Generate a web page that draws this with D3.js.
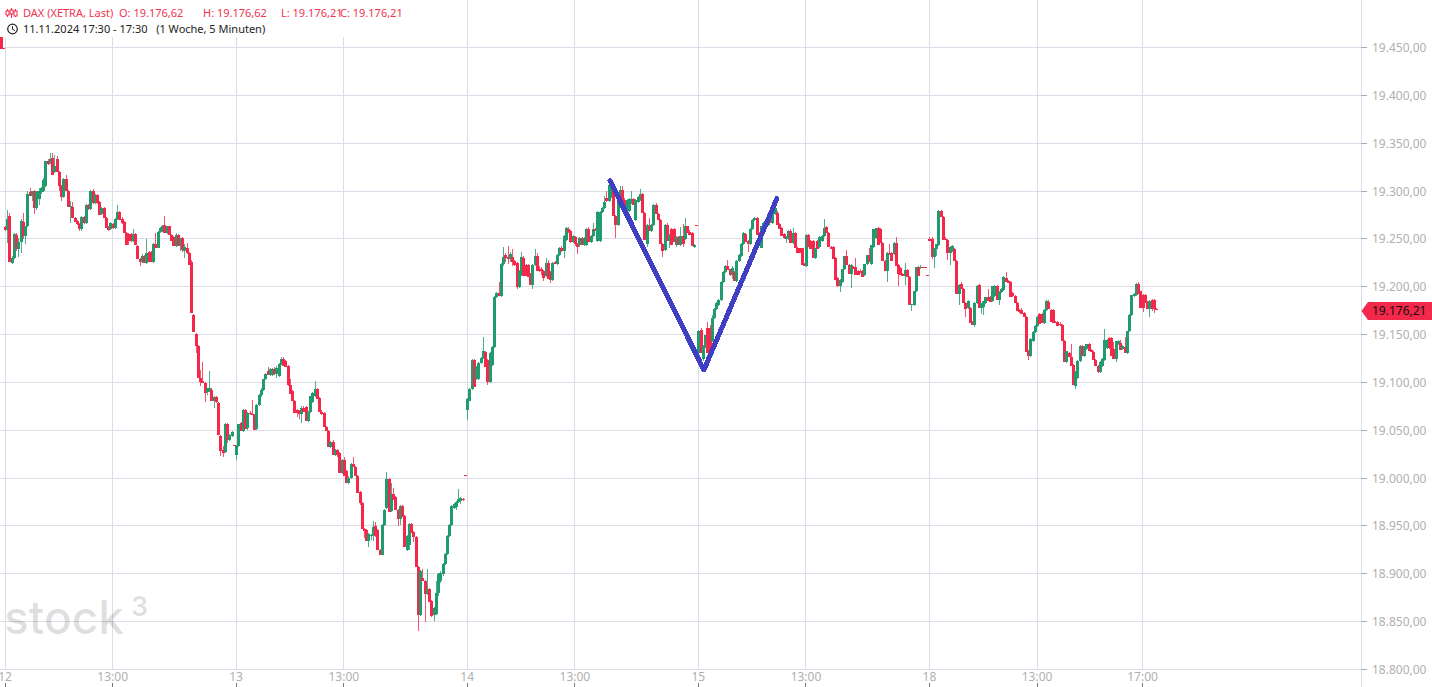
<!DOCTYPE html>
<html><head><meta charset="utf-8">
<script src="https://cdn.jsdelivr.net/npm/d3@7/dist/d3.min.js"></script>
<style>
html,body{margin:0;padding:0;background:#fff;overflow:hidden}
svg{display:block;font-family:"Noto Sans","Open Sans",sans-serif}
</style></head><body>
<svg id="c" width="1432" height="687"></svg>
<script>
// rows: [open, high, low, close] of one 5-minute candle
const day11tail = [[19465,19466,19449,19449],[19450,19450,19449,19449]];
const day12 = [
[19262,19263,19258,19259],[19259,19280,19246,19271],[19274,19277,19226,19226],[19225,19232,19224,19230],[19230,19256,19229,19255],[19254,19256,19237,19239],[19239,19251,19231,19247],[19247,19271,19235,19269],[19268,19277,19250,19253],[19253,19264,19245,19263],
[19263,19300,19262,19297],[19299,19303,19295,19295],[19295,19300,19290,19300],[19300,19301,19276,19282],[19282,19300,19280,19300],[19292,19303,19285,19300],[19299,19304,19297,19303],[19300,19314,19299,19312],[19305,19331,19304,19331],[19331,19334,19327,19328],
[19329,19340,19328,19334],[19335,19340,19317,19317],[19320,19338,19319,19326],[19334,19337,19320,19320],[19320,19321,19300,19305],[19305,19306,19290,19294],[19294,19314,19293,19313],[19313,19317,19300,19300],[19300,19301,19283,19283],[19283,19290,19267,19284],
[19283,19289,19272,19272],[19272,19273,19268,19268],[19269,19270,19265,19266],[19266,19267,19258,19260],[19260,19274,19258,19273],[19273,19274,19266,19267],[19267,19286,19266,19285],[19285,19286,19280,19281],[19281,19301,19280,19300],[19300,19302,19287,19288],
[19288,19297,19287,19296],[19296,19297,19287,19288],[19289,19290,19275,19275],[19276,19283,19275,19282],[19282,19283,19272,19272],[19272,19273,19261,19261],[19262,19263,19258,19259],[19260,19268,19259,19267],[19266,19267,19260,19261],[19261,19272,19260,19271],
[19271,19285,19270,19278],[19278,19279,19270,19270],[19271,19273,19266,19267],[19268,19269,19256,19256],[19256,19257,19244,19244],[19255,19256,19244,19248],[19255,19256,19247,19248],[19248,19260,19247,19255],[19255,19256,19244,19244],[19243,19244,19229,19229],
[19229,19230,19222,19226],[19226,19234,19225,19232],[19232,19233,19225,19225],[19225,19250,19224,19235],[19236,19237,19226,19226],[19236,19237,19226,19226],[19226,19246,19225,19245],[19245,19256,19241,19241],[19241,19258,19240,19257],[19257,19262,19256,19261],
[19258,19265,19257,19264],[19265,19274,19256,19256],[19256,19264,19255,19263],[19263,19264,19254,19254],[19254,19255,19248,19248],[19252,19253,19243,19243],[19243,19256,19242,19254],[19254,19255,19243,19243],[19243,19251,19237,19251],[19251,19252,19236,19238],
[19237,19245,19230,19242],[19241,19246,19234,19235],[19235,19236,19223,19223],[19226,19228,19172,19172],[19170,19171,19153,19153],[19151,19152,19131,19138],[19138,19139,19105,19105],[19105,19113,19096,19100],[19101,19121,19099,19099],[19099,19100,19079,19089],
[19090,19094,19087,19094],[19091,19112,19090,19094],[19092,19094,19080,19080],[19080,19086,19073,19085],[19085,19086,19078,19079],[19078,19079,19045,19045],[19044,19045,19023,19028],[19029,19033,19022,19026],[19027,19057,19026,19056],[19056,19057,19037,19040],
[19040,19046,19039,19045],[19044,19049,19043,19048],[19034,19034,19033,19033]];
const day13 = [
[19024,19034,19019,19033],[19033,19056,19032,19056],[19057,19059,19049,19049],[19049,19072,19048,19071],[19071,19072,19051,19051],[19052,19069,19050,19068],[19068,19070,19066,19067],[19067,19082,19066,19066],[19066,19067,19050,19050],[19051,19077,19050,19076],
[19076,19088,19075,19087],[19087,19094,19085,19092],[19092,19104,19091,19103],[19103,19110,19102,19109],[19112,19116,19108,19108],[19108,19115,19107,19114],[19108,19115,19107,19114],[19114,19116,19108,19109],[19109,19117,19105,19115],[19107,19120,19106,19119],
[19119,19127,19118,19124],[19124,19126,19117,19117],[19122,19123,19116,19116],[19117,19118,19096,19097],[19097,19104,19088,19088],[19091,19092,19081,19081],[19081,19082,19068,19068],[19071,19072,19064,19068],[19070,19071,19062,19067],[19067,19075,19058,19073],
[19073,19075,19069,19069],[19074,19075,19060,19060],[19060,19070,19059,19069],[19069,19086,19068,19086],[19079,19090,19078,19089],[19086,19101,19085,19093],[19093,19094,19083,19083],[19084,19085,19069,19069],[19069,19071,19066,19067],[19068,19069,19053,19053],
[19053,19054,19049,19049],[19049,19050,19032,19032],[19032,19039,19031,19038],[19038,19040,19024,19024],[19024,19030,19023,19029],[19029,19030,19022,19024],[19026,19027,19005,19005],[19005,19020,19004,19019],[19019,19022,19002,19002],[19007,19008,18995,18995],
[18995,19002,18994,19000],[19000,19016,18999,19015],[19015,19022,19012,19012],[19012,19013,19002,19002],[19002,19003,18984,18984],[18985,18986,18972,18974],[18974,18975,18947,18947],[18947,18948,18937,18945],[18946,18947,18934,18934],[18934,18942,18928,18941],
[18939,18941,18935,18940],[18940,18955,18934,18949],[18950,18954,18938,18939],[18946,18947,18925,18925],[18925,18926,18920,18920],[18920,18952,18919,18951],[18951,18968,18950,18967],[18969,19006,18968,18999],[18999,19000,18964,18964],[18965,18995,18964,18983],
[18983,18990,18977,18977],[18980,18981,18967,18967],[18967,18968,18950,18957],[18957,18972,18951,18971],[18971,18972,18959,18959],[18960,18961,18928,18928],[18925,18940,18924,18939],[18930,18953,18925,18952],[18952,18953,18943,18943],[18944,18945,18933,18938],
[18938,18939,18907,18907],[18907,18908,18840,18857],[18857,18904,18856,18903],[18895,18905,18892,18892],[18892,18893,18849,18879],[18879,18905,18878,18884],[18884,18885,18870,18870],[18871,18872,18855,18856],[18857,18865,18850,18864],[18858,18892,18857,18880],
[18880,18901,18877,18900],[18892,18903,18890,18901],[18900,18911,18898,18910],[18910,18922,18909,18921],[18921,18940,18920,18939],[18939,18952,18938,18951],[18951,18972,18950,18971],[18969,18974,18968,18973],[18970,18976,18967,18975],[18975,18988,18974,18978],
[18976,18980,18973,18979],[18978,18979,18976,18977],[19003,19003,19002,19002]];
const day14 = [
[19071,19084,19061,19083],[19081,19094,19080,19093],[19093,19124,19092,19123],[19123,19124,19095,19095],[19103,19117,19102,19116],[19103,19121,19102,19120],[19120,19126,19119,19125],[19125,19147,19124,19133],[19132,19133,19116,19116],[19123,19124,19097,19100],
[19100,19132,19099,19131],[19118,19138,19117,19137],[19137,19190,19136,19189],[19189,19194,19188,19193],[19193,19205,19190,19190],[19190,19225,19189,19224],[19224,19242,19222,19231],[19233,19235,19226,19230],[19231,19243,19224,19229],[19229,19236,19226,19234],
[19231,19239,19222,19226],[19227,19228,19222,19223],[19225,19226,19198,19200],[19200,19217,19199,19216],[19212,19236,19211,19231],[19230,19232,19211,19211],[19223,19224,19211,19211],[19223,19224,19210,19210],[19213,19214,19202,19202],[19202,19224,19198,19223],
[19223,19239,19222,19232],[19232,19235,19216,19216],[19219,19222,19215,19216],[19219,19221,19212,19216],[19216,19217,19206,19209],[19211,19230,19210,19225],[19225,19228,19208,19208],[19215,19216,19204,19207],[19207,19226,19206,19225],[19226,19227,19224,19224],
[19224,19234,19223,19233],[19233,19242,19232,19240],[19240,19243,19236,19237],[19237,19254,19230,19253],[19249,19262,19248,19261],[19260,19262,19256,19257],[19258,19259,19246,19247],[19247,19254,19246,19253],[19252,19253,19243,19245],[19245,19246,19234,19242],
[19244,19252,19242,19251],[19251,19252,19244,19244],[19244,19252,19243,19251],[19244,19261,19243,19260],[19260,19262,19247,19247],[19247,19254,19246,19253],[19253,19267,19252,19260],[19260,19261,19258,19258],[19248,19279,19247,19278],[19248,19279,19247,19278],
[19278,19283,19277,19282],[19282,19295,19281,19289],[19293,19300,19289,19290],[19290,19308,19289,19306],[19294,19309,19293,19308],[19303,19304,19274,19274],[19274,19275,19251,19265],[19265,19299,19264,19298],[19293,19305,19292,19301],[19301,19305,19289,19289],
[19291,19293,19276,19279],[19279,19292,19270,19291],[19279,19293,19278,19292],[19288,19300,19287,19292],[19292,19293,19285,19285],[19270,19292,19269,19291],[19289,19295,19288,19294],[19291,19302,19290,19297],[19297,19298,19277,19277],[19277,19278,19249,19249],
[19245,19266,19242,19265],[19264,19272,19258,19258],[19258,19266,19257,19265],[19265,19286,19264,19285],[19285,19288,19276,19276],[19276,19277,19270,19270],[19270,19271,19245,19245],[19245,19246,19231,19237],[19238,19266,19237,19265],[19265,19267,19248,19248],
[19248,19255,19240,19254],[19260,19261,19244,19244],[19260,19261,19247,19247],[19244,19253,19242,19252],[19252,19253,19244,19244],[19244,19262,19243,19253],[19253,19266,19242,19245],[19250,19272,19249,19263],[19263,19264,19256,19256],[19257,19259,19254,19254],
[19256,19257,19243,19243],[19242,19245,19241,19244],[19265,19265,19264,19264]];
const day15 = [
[19131,19155,19130,19154],[19155,19157,19131,19131],[19124,19139,19122,19138],[19137,19150,19136,19149],[19157,19163,19131,19131],[19157,19160,19128,19128],[19143,19170,19142,19167],[19167,19178,19166,19177],[19177,19184,19176,19183],[19181,19187,19180,19186],
[19186,19206,19185,19205],[19205,19216,19204,19215],[19215,19223,19214,19222],[19222,19228,19217,19217],[19218,19219,19211,19212],[19212,19222,19208,19220],[19215,19216,19206,19206],[19206,19228,19205,19227],[19227,19234,19226,19233],[19232,19246,19231,19245],
[19245,19257,19244,19256],[19255,19256,19247,19247],[19248,19249,19236,19245],[19245,19261,19244,19260],[19260,19271,19259,19270],[19270,19273,19269,19272],[19272,19273,19254,19254],[19256,19257,19249,19249],[19241,19264,19240,19263],[19258,19268,19257,19267],
[19266,19272,19265,19271],[19265,19272,19264,19271],[19271,19272,19267,19267],[19267,19278,19266,19277],[19276,19290,19275,19282],[19277,19279,19265,19265],[19266,19267,19260,19260],[19261,19262,19253,19253],[19255,19256,19250,19251],[19250,19253,19246,19252],
[19250,19259,19249,19258],[19258,19260,19246,19246],[19246,19261,19245,19256],[19256,19257,19240,19240],[19241,19242,19235,19235],[19240,19241,19235,19235],[19240,19241,19223,19223],[19224,19225,19222,19222],[19222,19255,19221,19254],[19254,19255,19242,19242],
[19248,19249,19239,19239],[19248,19249,19230,19230],[19230,19241,19229,19240],[19248,19249,19239,19239],[19242,19253,19241,19252],[19248,19254,19247,19253],[19253,19271,19252,19261],[19262,19263,19256,19256],[19256,19257,19242,19242],[19242,19243,19239,19239],
[19242,19243,19229,19229],[19230,19231,19207,19207],[19209,19210,19200,19201],[19201,19208,19194,19207],[19205,19219,19204,19219],[19218,19232,19217,19232],[19232,19238,19223,19223],[19223,19224,19213,19213],[19213,19224,19199,19223],[19221,19222,19218,19218],
[19221,19230,19212,19212],[19216,19217,19212,19212],[19216,19218,19214,19215],[19216,19217,19210,19210],[19212,19224,19211,19224],[19224,19233,19223,19233],[19233,19240,19226,19226],[19224,19244,19223,19244],[19242,19260,19241,19260],[19251,19261,19250,19261],
[19261,19262,19244,19244],[19260,19261,19246,19246],[19246,19247,19227,19227],[19227,19228,19216,19216],[19216,19236,19205,19235],[19235,19245,19233,19234],[19235,19236,19227,19227],[19234,19247,19233,19246],[19246,19252,19222,19222],[19223,19224,19201,19213],
[19220,19221,19212,19212],[19213,19214,19211,19211],[19211,19225,19202,19217],[19217,19218,19210,19210],[19210,19211,19181,19181],[19181,19182,19175,19182],[19181,19196,19180,19196],[19195,19221,19194,19221],[19221,19222,19211,19211],[19220,19223,19219,19221],
[19221,19221,19220,19220],[19221,19221,19220,19220],[19212,19212,19211,19211]];
const day18 = [
[19250,19252,19248,19248],[19250,19252,19229,19231],[19231,19240,19220,19240],[19239,19245,19232,19245],[19244,19280,19243,19279],[19279,19280,19273,19273],[19273,19274,19249,19249],[19250,19252,19249,19249],[19249,19250,19228,19235],[19235,19243,19223,19242],
[19237,19244,19236,19243],[19239,19241,19227,19227],[19227,19228,19192,19192],[19192,19203,19181,19202],[19203,19205,19198,19198],[19198,19199,19183,19183],[19183,19184,19168,19177],[19178,19186,19177,19185],[19178,19179,19162,19162],[19163,19164,19160,19160],
[19160,19184,19158,19183],[19183,19202,19182,19201],[19202,19203,19178,19178],[19178,19183,19171,19183],[19179,19185,19170,19185],[19183,19189,19182,19189],[19189,19198,19185,19185],[19189,19190,19184,19184],[19185,19201,19184,19201],[19190,19202,19189,19201],
[19201,19202,19186,19186],[19186,19195,19181,19194],[19194,19199,19193,19198],[19197,19211,19196,19210],[19209,19215,19205,19205],[19206,19207,19204,19204],[19205,19206,19189,19189],[19193,19194,19189,19190],[19190,19191,19183,19183],[19183,19184,19175,19175],
[19176,19177,19173,19174],[19176,19178,19171,19171],[19173,19174,19168,19168],[19168,19169,19132,19132],[19133,19134,19123,19128],[19128,19146,19127,19145],[19143,19154,19142,19153],[19153,19160,19152,19159],[19159,19169,19158,19168],[19171,19172,19161,19161],
[19171,19172,19162,19162],[19162,19177,19161,19176],[19176,19186,19175,19185],[19184,19186,19177,19177],[19176,19177,19163,19163],[19176,19177,19162,19162],[19163,19164,19162,19162],[19163,19164,19159,19159],[19161,19163,19159,19160],[19160,19161,19143,19143],
[19143,19144,19121,19121],[19121,19133,19120,19133],[19131,19132,19126,19126],[19126,19140,19117,19117],[19118,19119,19097,19097],[19096,19112,19093,19111],[19105,19123,19104,19122],[19122,19139,19121,19138],[19138,19139,19128,19128],[19128,19138,19127,19137],
[19135,19140,19134,19140],[19140,19141,19133,19133],[19134,19135,19132,19132],[19132,19133,19123,19123],[19123,19124,19117,19117],[19117,19118,19110,19111],[19111,19122,19110,19121],[19117,19125,19116,19124],[19123,19156,19122,19144],[19136,19145,19135,19144],
[19146,19147,19135,19136],[19146,19147,19128,19128],[19135,19142,19124,19124],[19124,19143,19121,19143],[19140,19144,19139,19143],[19141,19144,19134,19134],[19135,19139,19134,19138],[19137,19147,19131,19131],[19131,19154,19130,19154],[19154,19171,19153,19170],
[19170,19191,19169,19191],[19190,19193,19189,19192],[19191,19204,19190,19203],[19203,19205,19192,19192],[19195,19196,19178,19178],[19191,19192,19174,19178],[19191,19192,19183,19183],[19184,19185,19177,19177],[19177,19186,19168,19185],[19186,19187,19175,19177],
[19186,19187,19172,19177],[19177,19178,19176,19176]];
const sessions = [day12, day13, day14, day15, day18];
const barsPerSession = 103;

const priceTicks = [19450,19400,19350,19300,19250,19200,19150,19100,19050,19000,18950,18900,18850,18800];
const timeTicks = [0,48,103,151,206,254,309,357,412,460,507];
const timeLabels = ["12","13:00","13","13:00","14","13:00","15","13:00","18","13:00","17:00"];
const patternIdx = [269.6,311.5,344];
const patternPrice = [19311,19113,19292];
const lastPrice = 19176.21;
const headerRed = ["DAX (XETRA, Last)","O: 19.176,62","H: 19.176,62","L: 19.176,21","C: 19.176,21"];
const headerRedX = [23,119,203,281,340];
const headerBlack = "11.11.2024 17:30 - 17:30\u00A0\u00A0\u00A0(1 Woche, 5 Minuten)";

const RED="#f4284a",GREEN="#209b6d",GRID="#dcdde8",AXISTXT="#b0b0b0";
const svg=d3.select("#c");
const x=d3.scaleLinear().domain([0,412]).range([5,929.4]);
const y=d3.scaleLinear().domain([18800,19450]).range([669.3,47.6]);
const fmt=v=>d3.format(",.2f")(v).replace(/[.,]/g,m=>m==="."?",":".");

const candles=[];
day11tail.forEach((r,i)=>candles.push({i:i-2,r}));
sessions.forEach((s,d)=>s.forEach((r,i)=>candles.push({i:d*barsPerSession+i,r})));

// grid
const grid=svg.append("g").attr("shape-rendering","crispEdges");
grid.selectAll("line.h").data(priceTicks).join("line").attr("x1",0).attr("x2",1361)
  .attr("y1",d=>y(d)).attr("y2",d=>y(d)).attr("stroke",GRID);
grid.selectAll("line.v").data(timeTicks).join("line").attr("x1",d=>x(d)).attr("x2",d=>x(d))
  .attr("y1",0).attr("y2",669).attr("stroke",GRID);
grid.append("line").attr("x1",1361.5).attr("x2",1361.5).attr("y1",0).attr("y2",687).attr("stroke",GRID);

// watermark
const wm=svg.append("g").attr("fill","#000").attr("fill-opacity",0.13).attr("font-family","Inter,Roboto,sans-serif");
wm.append("text").attr("x",4).attr("y",634).attr("font-size",46).attr("font-weight",500).text("stock");
wm.append("text").attr("x",131).attr("y",616).attr("font-size",27).attr("font-weight",600).text("3");

// candles
const cg=svg.append("g").attr("shape-rendering","crispEdges");
const col=d=>d.r[3]>=d.r[0]?GREEN:RED;
cg.selectAll("line.w").data(candles).join("line").attr("class","w")
  .attr("x1",d=>Math.round(x(d.i))+.5).attr("x2",d=>Math.round(x(d.i))+.5)
  .attr("y1",d=>y(d.r[1])).attr("y2",d=>y(d.r[2])).attr("stroke",col).attr("stroke-opacity",.8);
cg.selectAll("rect.b").data(candles).join("rect").attr("class","b")
  .attr("x",d=>Math.round(x(d.i))-1).attr("width",3)
  .attr("y",d=>y(Math.max(d.r[0],d.r[3])))
  .attr("height",d=>Math.max(1,Math.abs(y(d.r[0])-y(d.r[3]))))
  .attr("fill",col);

// drawn pattern
const pat=patternIdx.map((d,i)=>[d,patternPrice[i]]);
svg.append("path").attr("d",d3.line().x(d=>x(d[0])).y(d=>y(d[1]))(pat))
  .attr("fill","none").attr("stroke","#3f3fc6").attr("stroke-width",5)
  .attr("stroke-linecap","round").attr("stroke-linejoin","round").attr("shape-rendering","crispEdges");

// header
svg.append("rect").attr("x",0).attr("y",0).attr("width",392).attr("height",37).attr("fill","#fff");
const ic=svg.append("g").attr("stroke",RED).attr("fill","none").attr("stroke-width",1);
[[7.5,9,17,11,15],[11.5,8,18,10,14],[15.5,9,17,11,16]].forEach(a=>{
  ic.append("line").attr("x1",a[0]).attr("x2",a[0]).attr("y1",a[1]).attr("y2",a[2]);
  ic.append("rect").attr("x",a[0]-1.5).attr("y",a[3]).attr("width",3).attr("height",a[4]-a[3]).attr("fill","#fff");
});
svg.append("circle").attr("cx",12.5).attr("cy",29).attr("r",4.8).attr("fill","none").attr("stroke","#222").attr("stroke-width",1.2);
svg.append("path").attr("d","M12.5 26.2V29.3L15 30.6").attr("fill","none").attr("stroke","#222");
svg.selectAll("text.hr").data(headerRed).join("text").attr("class","hr").attr("x",(d,i)=>headerRedX[i]).attr("y",17)
  .attr("font-size",11).attr("fill","#f0334f").text(d=>d);
svg.append("text").attr("x",23).attr("y",33).attr("font-size",11).attr("fill","#222").text(headerBlack);

// price axis
const pa=svg.append("g");
pa.selectAll("line").data(priceTicks).join("line").attr("x1",1361).attr("x2",1367)
  .attr("y1",d=>y(d)).attr("y2",d=>y(d)).attr("stroke","#aaa").attr("shape-rendering","crispEdges");
pa.selectAll("text").data(priceTicks).join("text").attr("x",1372).attr("y",d=>y(d)+4.5)
  .attr("font-size",12).attr("fill",AXISTXT).text(fmt);

// last price tag
const ly=y(lastPrice)+1.5;
svg.append("path").attr("d",d3.line()([[1361.5,ly],[1368,ly-9],[1432,ly-9],[1432,ly+9],[1368,ly+9]])+"Z").attr("fill",RED);
svg.append("text").attr("x",1372).attr("y",ly+4.5).attr("font-size",12).attr("fill","#111").text(fmt(lastPrice));

// time axis
const ta=svg.append("g");
ta.selectAll("line").data(timeTicks).join("line").attr("x1",d=>x(d)).attr("x2",d=>x(d))
  .attr("y1",683).attr("y2",687).attr("stroke","#777").attr("shape-rendering","crispEdges");
ta.selectAll("text").data(timeTicks).join("text").attr("x",d=>x(d)).attr("y",681)
  .attr("text-anchor","middle").attr("font-size",12).attr("fill",AXISTXT).text((d,i)=>timeLabels[i]);
</script>
</body></html>
